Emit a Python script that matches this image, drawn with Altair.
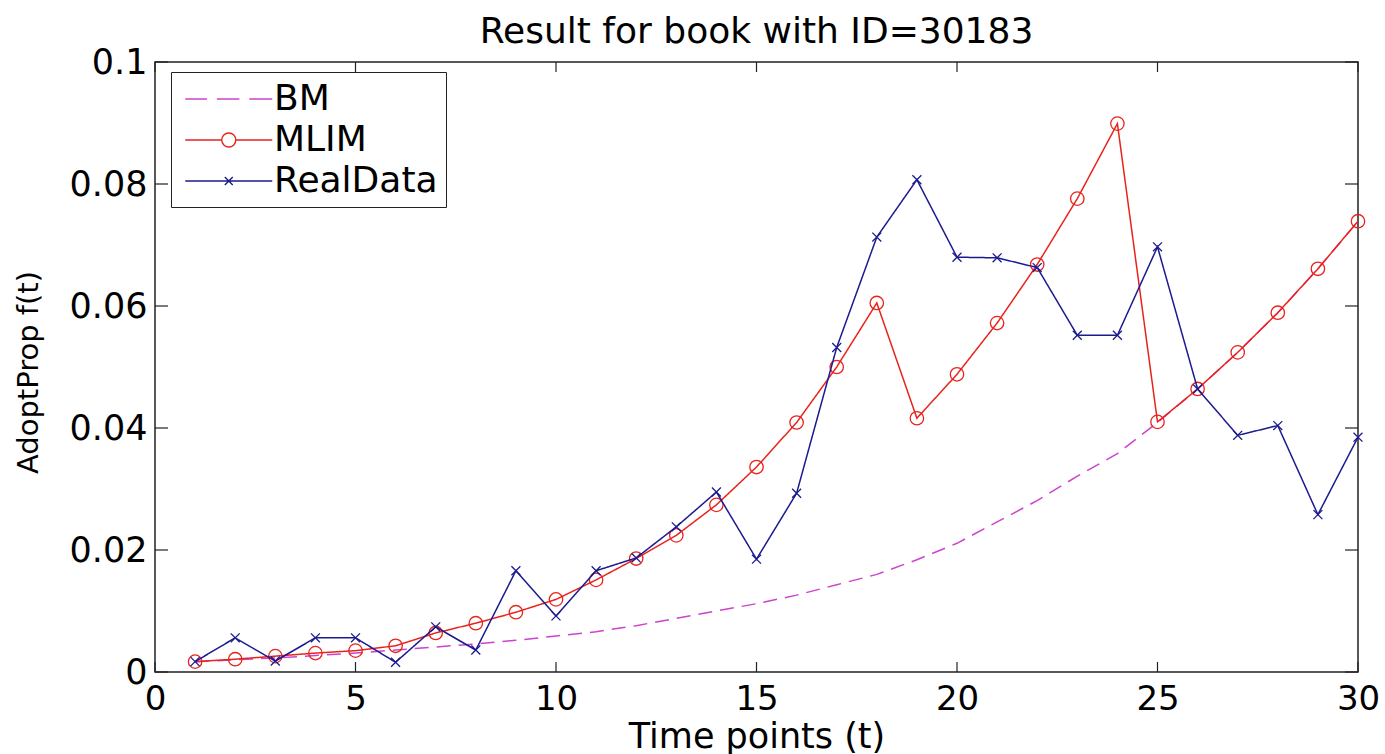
import altair as alt
import pandas as pd

# ---- data -------------------------------------------------------------
t_points = list(range(1, 31))

bm = [0.0017, 0.0020, 0.0023, 0.0027, 0.0031, 0.0036, 0.0041, 0.0046, 0.0052, 0.0059,
      0.0066, 0.0076, 0.0088, 0.0100, 0.0112, 0.0126, 0.0143, 0.0160, 0.0184, 0.0211,
      0.0246, 0.0281, 0.0321, 0.0358, 0.0409, 0.0464, 0.0524, 0.0589, 0.0661, 0.0739]

mlim = [0.0017, 0.0021, 0.0026, 0.0031, 0.0035, 0.0043, 0.0064, 0.0080, 0.0098, 0.0119,
        0.0151, 0.0186, 0.0224, 0.0274, 0.0336, 0.0409, 0.0500, 0.0605, 0.0416, 0.0488,
        0.0572, 0.0668, 0.0776, 0.0899, 0.0410, 0.0464, 0.0524, 0.0589, 0.0661, 0.0739]

real_data = [0.0017, 0.0056, 0.0018, 0.0056, 0.0056, 0.0016, 0.0074, 0.0036, 0.0166, 0.0092,
             0.0166, 0.0187, 0.0238, 0.0295, 0.0185, 0.0293, 0.0532, 0.0713, 0.0807, 0.0680,
             0.0679, 0.0663, 0.0552, 0.0552, 0.0697, 0.0464, 0.0388, 0.0404, 0.0258, 0.0385]

series_names = ["BM", "MLIM", "RealData"]
series_colors = ["#cc44cc", "#e8231c", "#1b1b8f"]

x_ticks = [0, 5, 10, 15, 20, 25, 30]
y_ticks = [0, 0.02, 0.04, 0.06, 0.08, 0.1]

# ---- styling ----------------------------------------------------------
FONT = "DejaVu Sans"
W, H = 1203, 610

# legend glyphs: line sample with the marker in the middle (custom SVG paths)
legend_paths = [
    "M-0.708,0L0.5,0M1.05,0L2.3,0M2.85,0L4.125,0",
    "M-0.708,0L1.32,0M2.1,0L4.125,0M1.32,0A0.39,0.39 0 1,1 2.1,0A0.39,0.39 0 1,1 1.32,0",
    "M-0.708,0L4.125,0M1.49,-0.22L1.93,0.22M1.49,0.22L1.93,-0.22",
]

rows = []
for name, vals in zip(series_names, [bm, mlim, real_data]):
    for t, v in zip(t_points, vals):
        rows.append({"t": t, "value": v, "series": name})
df = pd.DataFrame(rows)

x_scale = alt.Scale(domain=[0, 30], nice=False, zero=False)
y_scale = alt.Scale(domain=[0, 0.1], nice=False, zero=False)

x_axis = alt.Axis(
    values=x_ticks, title="Time points (t)", ticks=False, domain=False, grid=False,
    labelFont=FONT, labelFontSize=34, labelColor="black", labelPadding=10,
    labelFlush=False, labelOverlap=False,
    titleFont=FONT, titleFontSize=35, titleFontWeight="normal", titleColor="black",
    titleBaseline="alphabetic", titleY=75,
)
y_axis = alt.Axis(
    values=y_ticks, format="~g", title="AdoptProp f(t)", ticks=False, domain=False, grid=False,
    labelFont=FONT, labelFontSize=35, labelColor="black", labelPadding=8,
    labelFlush=False, labelOverlap=False,
    titleFont=FONT, titleFontSize=29, titleFontWeight="normal", titleColor="black",
    titleBaseline="alphabetic", titleAngle=270, titleX=-118, titleY=H / 2 + 5,
)

# the same x/y definitions are used by every layer so the shared axes merge cleanly
x_enc = alt.X("t:Q", scale=x_scale, axis=x_axis)
y_enc = alt.Y("value:Q", scale=y_scale, axis=y_axis)

base = alt.Chart(df)


def series_line(name, color, dash):
    return base.transform_filter(alt.datum.series == name).mark_line(
        strokeWidth=1.5, color=color, strokeDash=dash
    ).encode(x=x_enc, y=y_enc)


bm_line = series_line("BM", series_colors[0], [14, 8])
mlim_line = series_line("MLIM", series_colors[1], [1, 0])
real_line = series_line("RealData", series_colors[2], [1, 0])

mlim_marks = base.transform_filter(alt.datum.series == "MLIM").mark_point(
    shape="circle", filled=False, size=180, color=series_colors[1], strokeWidth=1.3, opacity=1
).encode(x=x_enc, y=y_enc)

real_marks = base.transform_filter(alt.datum.series == "RealData").mark_point(
    shape="M-1,-1L1,1M-1,1L1,-1", filled=False, size=80, color=series_colors[2],
    strokeWidth=1.3, opacity=1
).encode(x=x_enc, y=y_enc)

legend_spec = alt.Legend(
    title=None, orient="none", legendX=16, legendY=10,
    padding=8, strokeColor="#222222", fillColor="white", cornerRadius=0,
    labelFont=FONT, labelFontSize=36, labelColor="black", labelOffset=57, labelLimit=0,
    labelExpr="datum.label + '\u00a0'",
    symbolSize=1296, symbolStrokeWidth=1.4, symbolFillColor="transparent",
    rowPadding=4,
)

# key layer: carries only the legend (its data is filtered away, the domain is fixed)
legend_layer = base.transform_filter("datum.t < 0").mark_point(
    filled=False, strokeWidth=1.4, opacity=1
).encode(
    x=x_enc,
    y=y_enc,
    color=alt.Color("series:N", scale=alt.Scale(domain=series_names, range=series_colors),
                    legend=legend_spec),
    shape=alt.Shape("series:N", scale=alt.Scale(domain=series_names, range=legend_paths),
                    legend=legend_spec),
)

# inward-pointing ticks on all four sides of the box
xt = alt.Chart(pd.DataFrame({"t": x_ticks}))
yt = alt.Chart(pd.DataFrame({"value": y_ticks}))
tick_style = dict(color="#222222", strokeWidth=1.2)

ticks_bottom = xt.mark_rule(**tick_style).encode(x=x_enc, y=alt.value(H), y2=alt.value(H - 10))
ticks_top = xt.mark_rule(**tick_style).encode(x=x_enc, y=alt.value(0), y2=alt.value(10))
ticks_left = yt.mark_rule(**tick_style).encode(y=y_enc, x=alt.value(0), x2=alt.value(13))
ticks_right = yt.mark_rule(**tick_style).encode(y=y_enc, x=alt.value(W), x2=alt.value(W - 13))

chart = alt.layer(
    bm_line, mlim_line, mlim_marks, real_line, real_marks, legend_layer,
    ticks_bottom, ticks_top, ticks_left, ticks_right,
).properties(
    width=W,
    height=H,
    background="white",
    title=alt.TitleParams(
        "Result for book with ID=30183", font=FONT, fontSize=36, fontWeight="normal",
        color="black", anchor="middle", frame="group", baseline="alphabetic",
        offset=1, dy=35,
    ),
    autosize=alt.AutoSizeParams(type="none"),
    padding={"left": 155, "top": 62, "right": 27, "bottom": 82},
).configure_view(
    stroke="#222222", strokeWidth=1.5
)

chart.save("out.html", embed_options={"renderer": "svg", "actions": False})
